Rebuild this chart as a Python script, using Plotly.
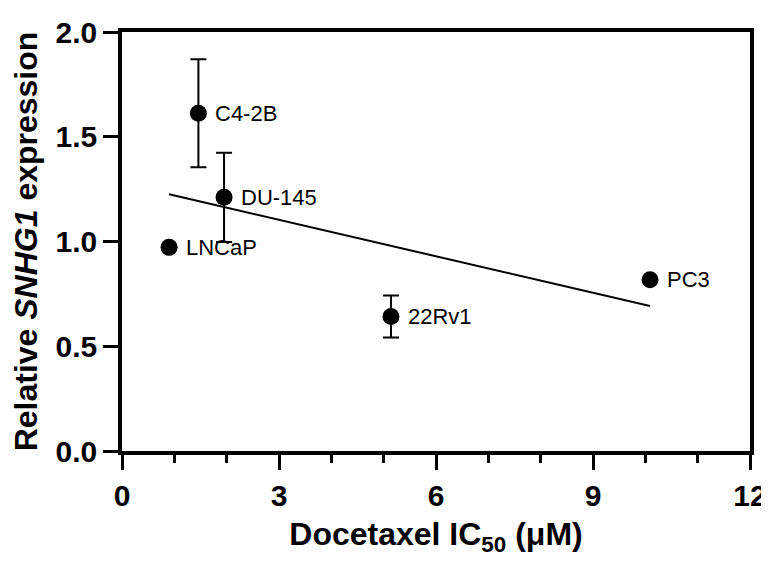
import numpy as np
import plotly.graph_objects as go

cell_lines = ["LNCaP", "C4-2B", "DU-145", "22Rv1", "PC3"]
ic50 = [0.90, 1.46, 1.95, 5.14, 10.09]
expression = [0.972, 1.612, 1.211, 0.642, 0.817]
expression_err = [0.0, 0.258, 0.213, 0.10, 0.0]

x_ticks = [0, 3, 6, 9, 12]
y_ticks = [0.0, 0.5, 1.0, 1.5, 2.0]

FONT = "Liberation Sans, Arial, sans-serif"

# linear regression through the points
slope, intercept = np.polyfit(ic50, expression, 1)
fit_x = [min(ic50), max(ic50)]
fit_y = [slope * v + intercept for v in fit_x]

fig = go.Figure()
fig.add_trace(go.Scatter(
    x=fit_x, y=fit_y, mode="lines",
    line=dict(color="black", width=2), showlegend=False, hoverinfo="skip"))
fig.add_trace(go.Scatter(
    x=ic50, y=expression, mode="markers",
    marker=dict(color="black", size=17),
    error_y=dict(type="data", array=expression_err, visible=True,
                 color="black", thickness=2, width=8),
    showlegend=False))

for name, xv, yv in zip(cell_lines, ic50, expression):
    fig.add_annotation(x=xv, y=yv, text=name, showarrow=False,
                       xanchor="left", yanchor="middle", xshift=15,
                       font=dict(family=FONT, size=22, color="black"))

axis_common = dict(showline=True, linecolor="black", linewidth=3.5, mirror=True,
                   ticks="outside", tickcolor="black", tickwidth=3, ticklen=15,
                   showgrid=False, zeroline=False, automargin=False,
                   tickfont=dict(family=FONT, size=30, color="black", weight="bold"))

fig.update_xaxes(range=[0, 12], tickvals=x_ticks, ticktext=[str(v) for v in x_ticks],
                 ticklabeloverflow="allow",
                 minor=dict(dtick=1, ticks="outside", ticklen=8, tickwidth=3, tickcolor="black"),
                 title=dict(text="Docetaxel IC<sub>50</sub> (μM)", standoff=22,
                            font=dict(family=FONT, size=32, color="black", weight="bold")),
                 **axis_common)
fig.update_yaxes(range=[0, 2], tickvals=y_ticks, ticktext=[f"{v:.1f}" for v in y_ticks],
                 title=dict(text="Relative <i>SNHG1</i> expression", standoff=16,
                            font=dict(family=FONT, size=32, color="black", weight="bold")),
                 **axis_common)

fig.update_layout(width=761, height=549, plot_bgcolor="white", paper_bgcolor="white",
                  margin=dict(l=114, r=19, t=24, b=106), showlegend=False)

fig.write_html("out.html")
